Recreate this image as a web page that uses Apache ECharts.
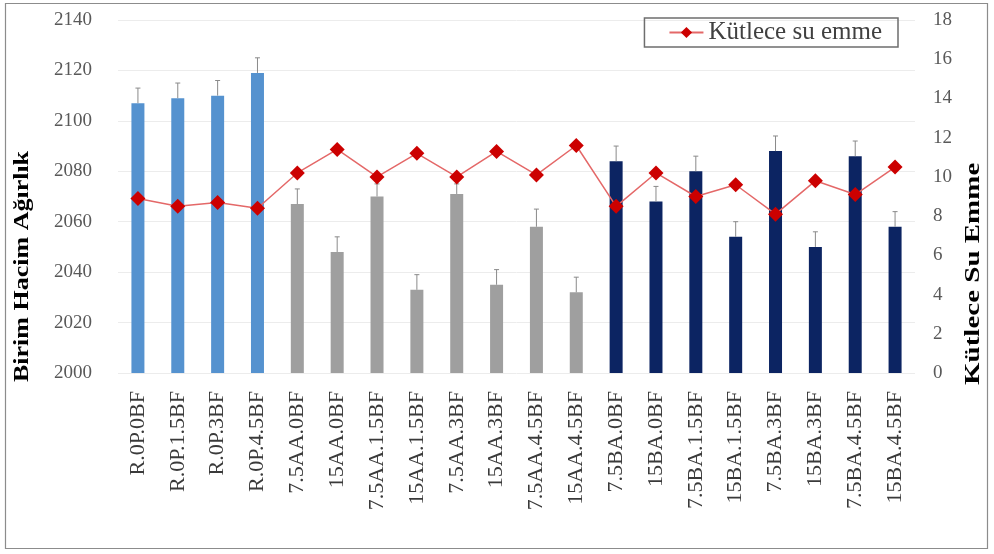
<!DOCTYPE html>
<html>
<head>
<meta charset="utf-8">
<script src="https://cdn.jsdelivr.net/npm/echarts@6/dist/echarts.min.js"></script>
<style>
  html, body { margin: 0; padding: 0; background: #fff; }
  #chart { width: 994px; height: 554px; }
</style>
</head>
<body>
<div id="chart"></div>
<script>
// karışım adları
const categories = [
  'R.0P.0BF', 'R.0P.1.5BF', 'R.0P.3BF', 'R.0P.4.5BF',
  '7.5AA.0BF', '15AA.0BF', '7.5AA.1.5BF', '15AA.1.5BF', '7.5AA.3BF', '15AA.3BF', '7.5AA.4.5BF', '15AA.4.5BF',
  '7.5BA.0BF', '15BA.0BF', '7.5BA.1.5BF', '15BA.1.5BF', '7.5BA.3BF', '15BA.3BF', '7.5BA.4.5BF', '15BA.4.5BF'
];
// birim hacim ağırlık (sol eksen)
const unitWeight = [
  2107, 2109, 2110, 2119,
  2067, 2048, 2070, 2033, 2071, 2035, 2058, 2032,
  2084, 2068, 2080, 2054, 2088, 2050, 2086, 2058
];
// hata çubukları
const unitWeightErr = [
  6, 6, 6, 6,
  6, 6, 5, 6, 4, 6, 7, 6,
  6, 6, 6, 6, 6, 6, 6, 6
];
// kütlece su emme (sağ eksen)
const waterAbs = [
  8.9, 8.5, 8.7, 8.4,
  10.2, 11.4, 10.0, 11.2, 10.0, 11.3, 10.1, 11.6,
  8.5, 10.2, 9.0, 9.6, 8.1, 9.8, 9.1, 10.5
];
// grup renkleri
const groupColors = ['#5592cf', '#9f9f9f', '#0c2462'];
const groupOf = i => (i < 4 ? 0 : i < 12 ? 1 : 2);

const chart = echarts.init(document.getElementById('chart'));
const serif = '"Liberation Serif", "DejaVu Serif", serif';

chart.setOption({
  animation: false,
  grid: { left: 118, right: 79, top: 20, bottom: 181 },
  graphic: [
    { type: 'rect', shape: { x: 5.5, y: 3.5, width: 982, height: 545 },
      style: { fill: null, stroke: '#8c8c8c', lineWidth: 1.2 }, silent: true },
    { type: 'text', x: 23, y: 382, rotation: Math.PI / 2, scaleX: 1.3,
      style: { text: 'Birim Hacim Ağırlık', font: 'bold 20px ' + serif, fill: '#000',
               textAlign: 'left', textVerticalAlign: 'middle' } },
    { type: 'text', x: 974, y: 385, rotation: Math.PI / 2, scaleX: 1.45,
      style: { text: 'Kütlece Su Emme', font: 'bold 20px ' + serif, fill: '#000',
               textAlign: 'left', textVerticalAlign: 'middle' } }
  ],
  legend: {
    right: 96, top: 18,
    data: ['Kütlece su emme'],
    borderColor: '#6e6e6e', borderWidth: 1.5, borderRadius: 0,
    padding: [2, 16, 2, 24],
    itemWidth: 34, itemHeight: 14, itemGap: 2,
    textStyle: { fontFamily: serif, fontSize: 25, color: '#404040' }
  },
  xAxis: {
    type: 'category',
    data: categories,
    axisLine: { show: false },
    axisTick: { show: false },
    axisLabel: {
      rotate: 90, interval: 0, margin: 18,
      fontFamily: serif, fontSize: 22, color: '#3a3a3a'
    }
  },
  yAxis: [
    {
      type: 'value', min: 2000, max: 2140, interval: 20,
      axisLine: { show: false }, axisTick: { show: false },
      axisLabel: { fontFamily: serif, fontSize: 19, color: '#595959', margin: 26,
                   formatter: v => String(v) },
      splitLine: { lineStyle: { color: '#ececec' } }
    },
    {
      type: 'value', min: 0, max: 18, interval: 2,
      axisLine: { show: false }, axisTick: { show: false },
      axisLabel: { fontFamily: serif, fontSize: 19, color: '#595959', margin: 18 },
      splitLine: { show: false }
    }
  ],
  series: [
    {
      name: 'Birim Hacim Ağırlık',
      type: 'bar',
      yAxisIndex: 0,
      barWidth: 13,
      data: unitWeight.map((v, i) => ({ value: v, itemStyle: { color: groupColors[groupOf(i)] } }))
    },
    {
      name: 'err',
      type: 'custom',
      yAxisIndex: 0,
      z: 3,
      data: unitWeight.map((v, i) => [i, v, v + unitWeightErr[i]]),
      renderItem: (params, api) => {
        const lo = api.coord([api.value(0), api.value(1)]);
        const hi = api.coord([api.value(0), api.value(2)]);
        const c = '#8a8a8a';
        return {
          type: 'group',
          children: [
            { type: 'line', shape: { x1: lo[0], y1: lo[1], x2: hi[0], y2: hi[1] }, style: { stroke: c, lineWidth: 1 } },
            { type: 'line', shape: { x1: hi[0] - 2.5, y1: hi[1], x2: hi[0] + 2.5, y2: hi[1] }, style: { stroke: c, lineWidth: 1 } }
          ]
        };
      }
    },
    {
      name: 'Kütlece su emme',
      type: 'line',
      yAxisIndex: 1,
      z: 5,
      data: waterAbs,
      symbol: 'diamond',
      symbolSize: 15,
      lineStyle: { color: '#e46868', width: 1.5 },
      itemStyle: { color: '#cc0000' }
    }
  ]
});
</script>
</body>
</html>
